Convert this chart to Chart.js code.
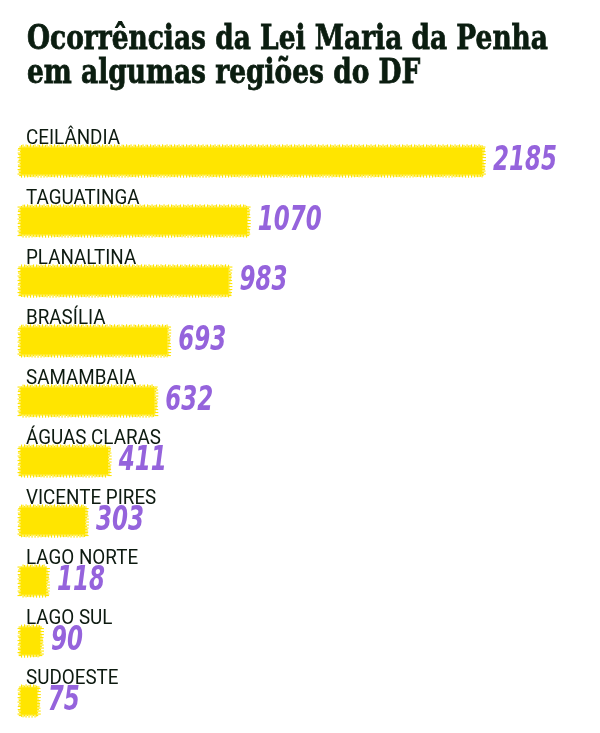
<!DOCTYPE html>
<html>
<head>
<meta charset="utf-8">
<script src="https://cdn.jsdelivr.net/npm/chart.js@4"></script>
<style>
  body { margin: 0; background: #fff; }
  #wrap { position: relative; width: 600px; height: 733px; }
  #titulo {
    position: absolute; left: 27px; top: 21px; margin: 0;
    font-family: "DejaVu Serif", serif; font-weight: bold; font-size: 33px;
    line-height: 34px; color: #0b1d10; transform-origin: 0 0; white-space: nowrap;
    -webkit-text-stroke: 0.8px #0b1d10;
  }
  canvas { position: absolute; left: 0; top: 0; }
</style>
</head>
<body>
<div id="wrap">
  <canvas id="barChart" width="600" height="733"></canvas>
  <h1 id="titulo">Ocorrências da Lei Maria da Penha<br>em algumas regiões do DF</h1>
</div>
<script>
// dados
const regioes = ['CEILÂNDIA', 'TAGUATINGA', 'PLANALTINA', 'BRASÍLIA', 'SAMAMBAIA',
                 'ÁGUAS CLARAS', 'VICENTE PIRES', 'LAGO NORTE', 'LAGO SUL', 'SUDOESTE'];
const ocorrencias = [2185, 1070, 983, 693, 632, 411, 303, 118, 90, 75];

const amarelo = '#ffe500';
const roxo = '#9563dc';

// title fits the width of the reference (condensed serif)
const titulo = document.getElementById('titulo');
const mctx = document.createElement('canvas').getContext('2d');
mctx.font = 'bold 33px "DejaVu Serif"';
const wTit = mctx.measureText('Ocorrências da Lei Maria da Penha').width;
titulo.style.transform = 'scaleX(' + (521 / wTit) + ')';

// brushy edges + labels
const rotulos = {
    id: 'rotulos',
    afterDatasetsDraw(chart) {
        const ctx = chart.ctx;
        const meta = chart.getDatasetMeta(0);

        meta.data.forEach((bar, i) => {
            const h = bar.height;
            const top = bar.y - h / 2, bottom = bar.y + h / 2;
            const left = bar.base, right = bar.x;

            // ragged brush edges
            ctx.save();
            ctx.fillStyle = amarelo;
            for (let x = left; x < right; x += 1.5) {
                const l1 = 1 + 2.2 * Math.abs(Math.sin(x * 1.31 + i));
                const l2 = 1 + 2.2 * Math.abs(Math.sin(x * 0.97 + i * 2));
                ctx.fillRect(x, top - l1, 1.1, l1);
                ctx.fillRect(x, bottom, 1.1, l2);
            }
            for (let y = top - 1; y < bottom + 1; y += 1.5) {
                const l1 = 1 + 3 * Math.abs(Math.sin(y * 1.13 + i));
                const l2 = 1 + 2.5 * Math.abs(Math.sin(y * 0.77 + i * 3));
                ctx.fillRect(right, y, l1, 1.1);
                ctx.fillRect(left - l2, y, l2, 1.1);
            }
            ctx.restore();

            // region label above bar
            ctx.save();
            ctx.font = '21px Roboto';
            ctx.fillStyle = '#0d1a10';
            const sx = 94 / ctx.measureText('CEILÂNDIA').width;
            ctx.translate(26, bar.y - 17);
            ctx.scale(sx, 1);
            ctx.fillText(regioes[i], 0, 0);
            ctx.restore();

            // value at the end of the bar
            ctx.save();
            ctx.font = 'italic bold 34px "DejaVu Sans"';
            ctx.fillStyle = roxo;
            const vx = 64 / ctx.measureText('2185').width;
            ctx.translate(right + 11, bar.y + 9);
            ctx.scale(vx, 1);
            ctx.fillText(String(ocorrencias[i]), 0, 0);
            ctx.restore();
        });
    }
};

const ctx = document.getElementById('barChart');
new Chart(ctx, {
    type: 'bar',
    data: {
        labels: regioes,
        datasets: [{
            label: 'Ocorrências',
            data: ocorrencias,
            backgroundColor: amarelo,
            borderWidth: 0,
            barThickness: 27,
            clip: false
        }]
    },
    options: {
        indexAxis: 'y',
        responsive: false,
        animation: false,
        layout: { padding: { top: 131, bottom: 2, left: 21, right: 118 } },
        scales: {
            x: { display: false, min: 0, max: 2185 },
            y: { display: false }
        },
        plugins: {
            legend: { display: false },
            tooltip: { enabled: false }
        }
    },
    plugins: [rotulos]
});
</script>
</body>
</html>
